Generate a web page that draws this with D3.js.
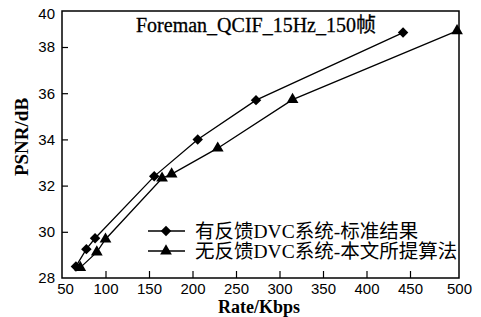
<!DOCTYPE html>
<html>
<head>
<meta charset="utf-8">
<script src="https://cdn.jsdelivr.net/npm/d3@7"></script>
<style>
  body { margin: 0; background: #fff; }
  svg { display: block; }
</style>
</head>
<body>
<div id="chart"></div>
<script>
// Data
const title = "Foreman_QCIF_15Hz_150帧";
const seriesNames = ["有反馈DVC系统-标准结果", "无反馈DVC系统-本文所提算法"];
const rateFeedback = [66, 78, 88, 156, 206, 273, 442];
const psnrFeedback = [28.5, 29.25, 29.72, 32.4, 34.0, 35.7, 38.8];
const rateNoFeedback = [71, 90, 100, 165, 176, 229, 315, 498];
const psnrNoFeedback = [28.45, 29.12, 29.68, 32.32, 32.5, 33.62, 35.72, 38.9];
const xTicks = [50, 100, 150, 200, 250, 300, 350, 400, 450, 500];
const yTicks = [28, 30, 32, 34, 36, 38, 40];

const width = 481, height = 317;
const plotLeft = 62, plotRight = 459, plotTop = 11, plotBottom = 278;

const svg = d3.select("#chart").append("svg")
    .attr("width", width)
    .attr("height", height);

// the scanned figure is slightly uneven near its edges
const x = d3.scaleLinear()
    .domain([50, 450, 500])
    .range([plotLeft, 410, plotRight]);

const y = d3.scaleLinear()
    .domain([28, 38, 40])
    .range([plotBottom, 47, plotTop]);

// frame
svg.append("rect")
    .attr("x", plotLeft)
    .attr("y", plotTop)
    .attr("width", plotRight - plotLeft)
    .attr("height", plotBottom - plotTop)
    .attr("fill", "none")
    .attr("stroke", "#000")
    .attr("stroke-width", 1.5);

const xAxis = svg.append("g")
    .attr("transform", `translate(0,${plotBottom})`)
    .call(d3.axisBottom(x).tickValues(xTicks).tickSizeInner(-7).tickSizeOuter(0).tickPadding(5));

const yAxis = svg.append("g")
    .attr("transform", `translate(${plotLeft},0)`)
    .call(d3.axisLeft(y).tickValues(yTicks).tickSizeInner(-6).tickSizeOuter(0).tickPadding(7));

[xAxis, yAxis].forEach(g => {
    g.select(".domain").remove();
    g.selectAll(".tick line").attr("stroke", "#000").attr("stroke-width", 1.2);
    g.selectAll(".tick text")
        .attr("fill", "#000")
        .style("font-family", "'Liberation Sans', Arial, sans-serif")
        .style("font-size", "15px");
});
// hide ticks that sit on the frame
xAxis.selectAll(".tick").filter(d => d === 50 || d === 500).select("line").remove();
yAxis.selectAll(".tick").filter(d => d === 28 || d === 40).select("line").remove();
// the top label sits a little below the frame corner
yAxis.selectAll(".tick").filter(d => d === 40).select("text").attr("y", 3);
xAxis.selectAll(".tick").filter(d => d === 50).select("text").attr("x", 3);

// lines
const line = d3.line()
    .x(d => x(d[0]))
    .y(d => y(d[1]));

const fb = rateFeedback.map((r, i) => [r, psnrFeedback[i]]);
const nfb = rateNoFeedback.map((r, i) => [r, psnrNoFeedback[i]]);

[fb, nfb].forEach(pts => {
    svg.append("path")
        .datum(pts)
        .attr("d", line)
        .attr("fill", "none")
        .attr("stroke", "#000")
        .attr("stroke-width", 1.3);
});

const diamond = d3.symbol().type(d3.symbolSquare).size(55);
const triangle = d3.symbol().type(d3.symbolTriangle).size(60);

svg.append("g").selectAll("path")
    .data(fb)
    .enter()
    .append("path")
    .attr("d", diamond)
    .attr("transform", d => `translate(${x(d[0])},${y(d[1])}) rotate(45)`)
    .attr("fill", "#000");

svg.append("g").selectAll("path")
    .data(nfb)
    .enter()
    .append("path")
    .attr("d", triangle)
    .attr("transform", d => `translate(${x(d[0])},${y(d[1])})`)
    .attr("fill", "#000");

// title
svg.append("text")
    .attr("x", 256)
    .attr("y", 32)
    .attr("text-anchor", "middle")
    .style("font-family", "'Liberation Serif', 'Times New Roman', 'Noto Sans CJK SC', serif")
    .style("font-size", "20px")
    .style("stroke", "#000")
    .style("stroke-width", 0.3)
    .text(title);

// axis titles
svg.append("text")
    .attr("x", 259)
    .attr("y", 313)
    .attr("text-anchor", "middle")
    .style("font-family", "'Liberation Serif', 'Times New Roman', serif")
    .style("font-weight", "bold")
    .style("font-size", "18px")
    .text("Rate/Kbps");

svg.append("text")
    .attr("transform", "translate(28,137) rotate(-90)")
    .attr("text-anchor", "middle")
    .style("font-family", "'Liberation Serif', 'Times New Roman', serif")
    .style("font-weight", "bold")
    .style("font-size", "19px")
    .text("PSNR/dB");

// legend
const legendRows = [231, 251];
const legendSymbols = [diamond, triangle];
seriesNames.forEach((name, i) => {
    const ly = legendRows[i];
    svg.append("line")
        .attr("x1", 148).attr("x2", 185)
        .attr("y1", ly).attr("y2", ly)
        .attr("stroke", "#000")
        .attr("stroke-width", 1.3);
    svg.append("path")
        .attr("d", legendSymbols[i])
        .attr("transform", `translate(166,${ly})` + (i === 0 ? " rotate(45)" : ""))
        .attr("fill", "#000");
    svg.append("text")
        .attr("x", 195)
        .attr("y", ly + 6.5)
        .style("font-family", "'Liberation Serif', 'Times New Roman', 'Noto Sans CJK SC', serif")
        .style("font-size", "19.5px")
        .text(name);
});
</script>
</body>
</html>
